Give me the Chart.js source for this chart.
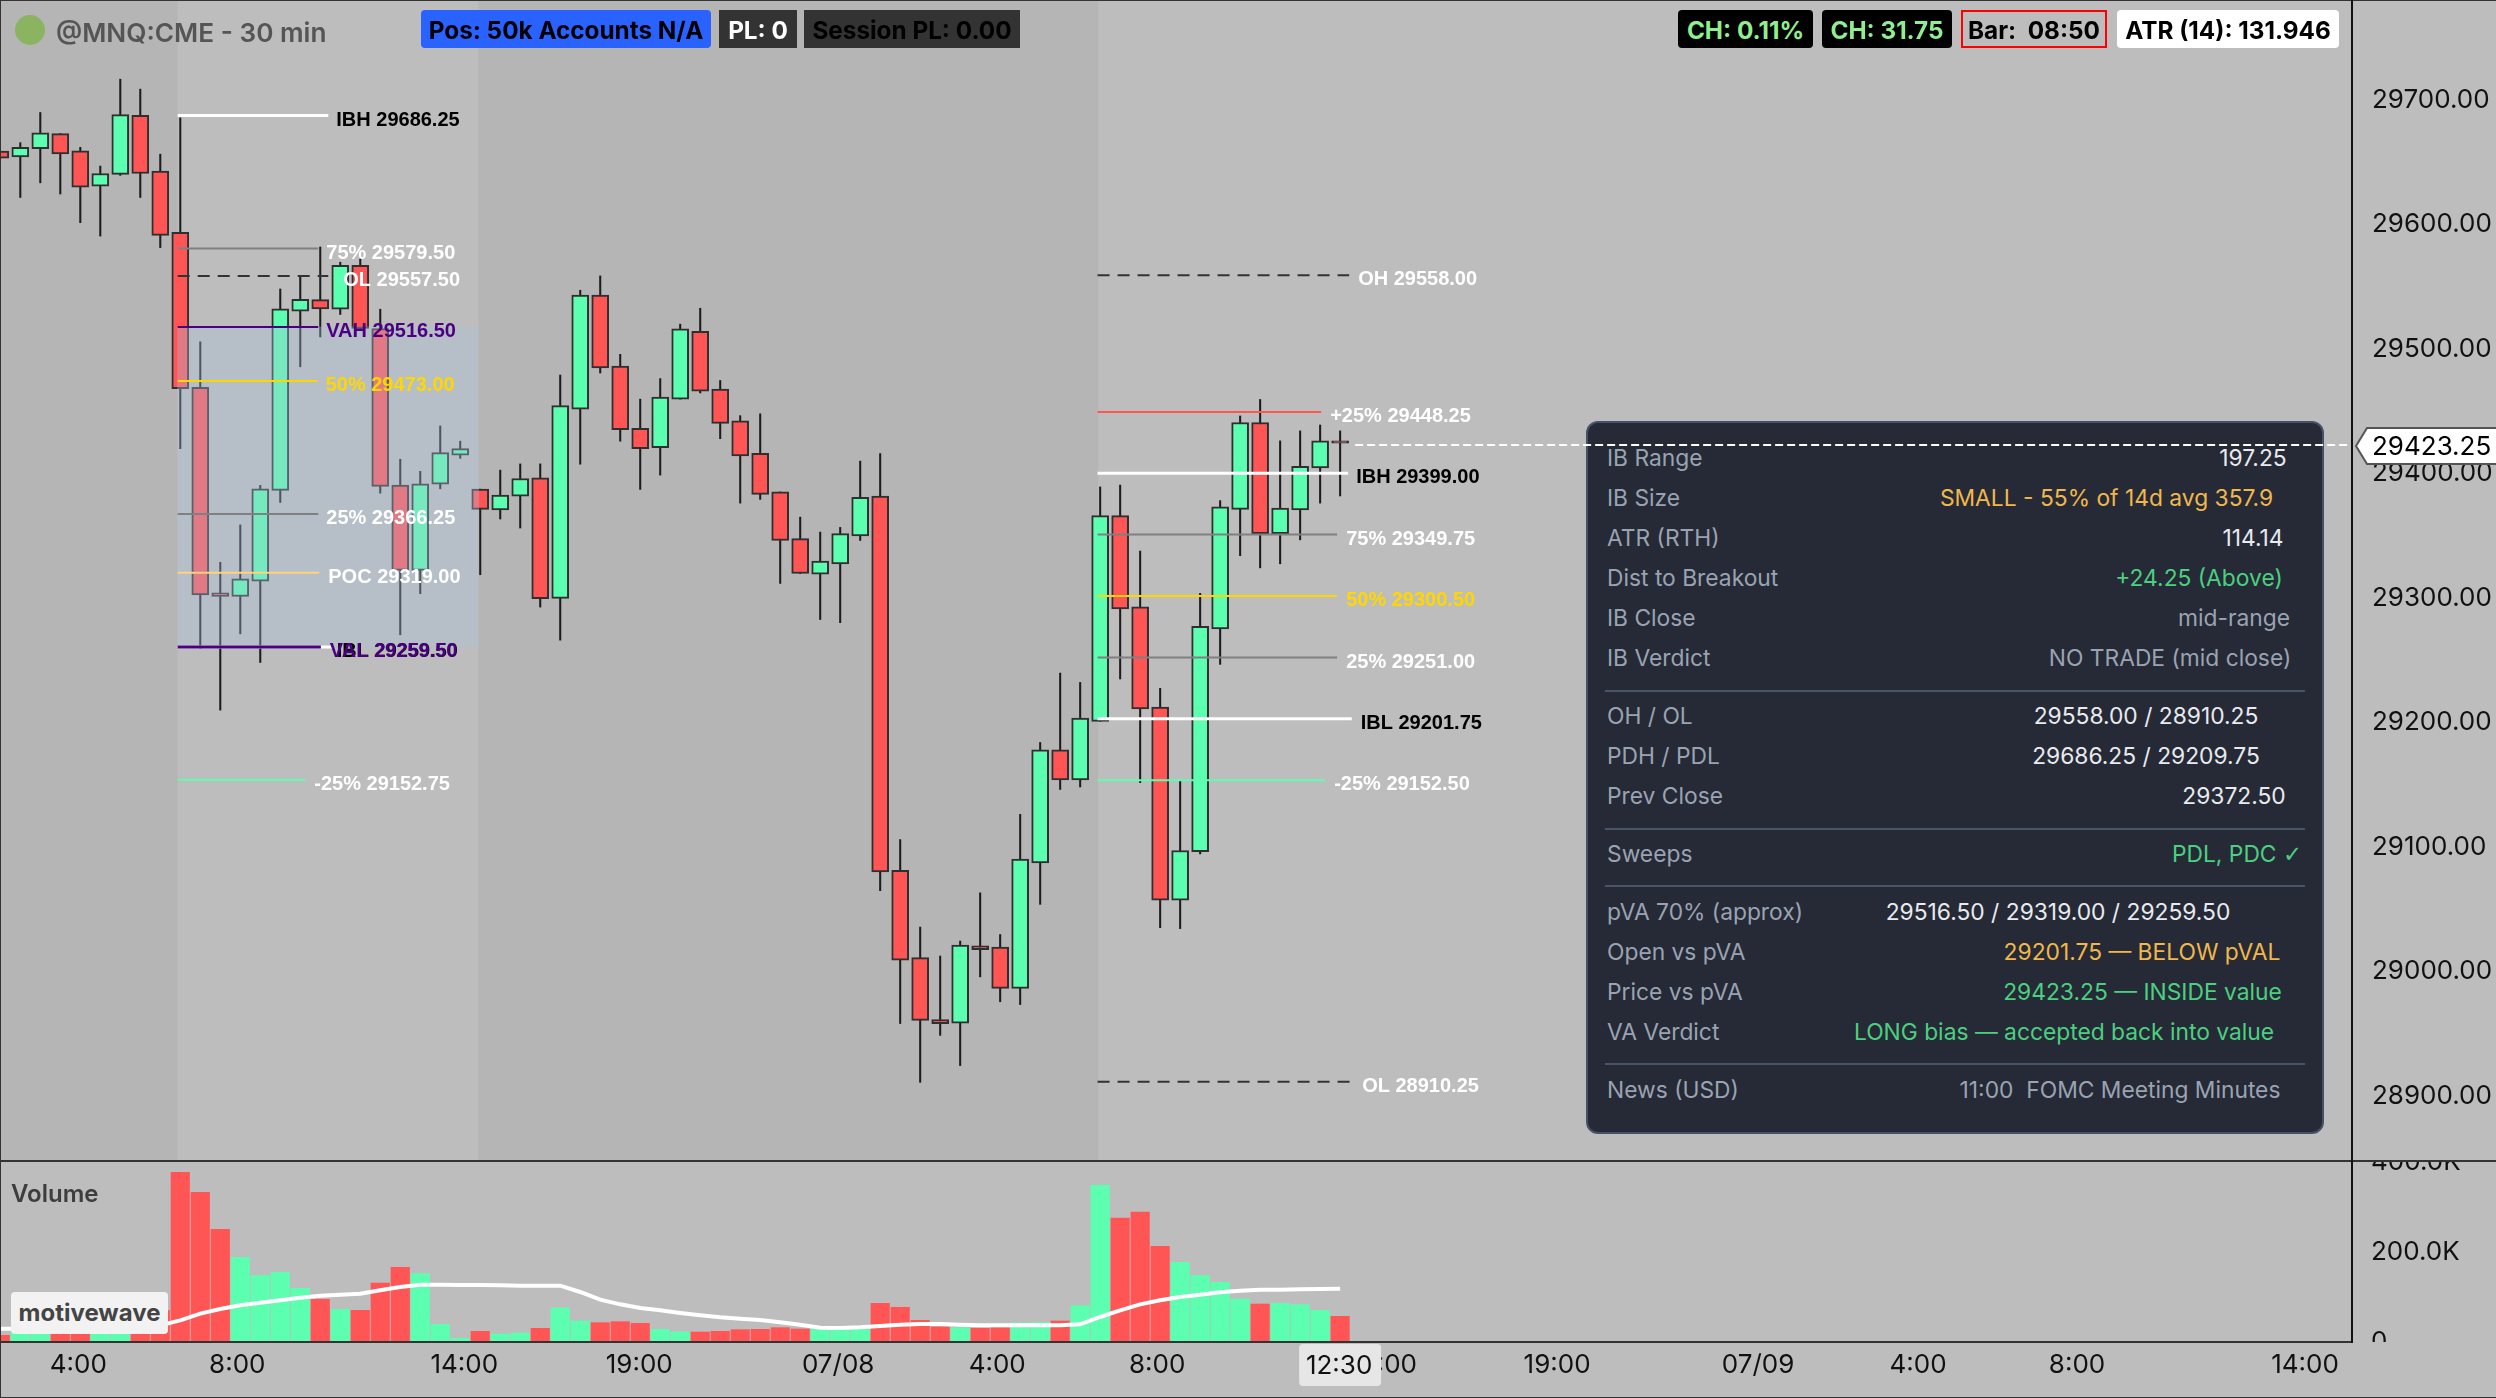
<!DOCTYPE html>
<html>
<head>
<meta charset="utf-8">
<title>@MNQ:CME - 30 min</title>
<script src="https://cdn.jsdelivr.net/npm/chart.js@4/dist/chart.umd.js"></script>
<style>
  html, body { margin: 0; padding: 0; width: 2496px; height: 1398px; overflow: hidden; background: #bdbdbd; font-family: Inter, sans-serif; }
  canvas { position: absolute; left: 0; z-index: 1; }
  #priceCanvas { top: 0; }
  #volumeCanvas { top: 1162px; }
  .rule { position: absolute; background: #333; z-index: 3; }
  .badge { position: absolute; top: 10px; height: 38px; line-height: 40px; text-align: center; font-size: 24.3px; font-weight: 700; border-radius: 4px; box-sizing: border-box; z-index: 3; white-space: nowrap; }
  .panel { position: absolute; left: 1586px; top: 421px; width: 738px; height: 713px; box-sizing: border-box; background: #252a36; border: 2px solid #465066; border-radius: 12px; z-index: 0; }
  .row { position: absolute; font-size: 22.8px; line-height: 30px; white-space: nowrap; z-index: 0; }
  .sep { position: absolute; left: 1605px; width: 700px; height: 2px; background: #4a5468; z-index: 0; }
  #title { position: absolute; left: 56px; top: 16px; font-size: 26.2px; line-height: 34px; font-weight: 600; color: #555; z-index: 3; white-space: nowrap; }
  #dot { position: absolute; left: 15px; top: 15px; width: 30px; height: 30px; border-radius: 50%; background: #8ab45f; z-index: 3; }
  #volTitle { position: absolute; left: 11px; top: 1179px; font-size: 24px; line-height: 30px; font-weight: 600; color: #3d3d3d; z-index: 3; }
  #brand { position: absolute; left: 11px; top: 1292px; width: 157px; height: 42px; line-height: 42px; text-align: center; background: #f2f2f2; border-radius: 4px; font-size: 24px; font-weight: 700; color: #444; z-index: 3; }
</style>
</head>
<body>
<div id="dot"></div>
<div id="title">@MNQ:CME - 30 min</div>
<div class="badge" style="left:421px;width:290px;background:#2962ff;color:#000">Pos: 50k Accounts N/A</div>
<div class="badge" style="left:719px;width:78px;background:#333;color:#fff;border-radius:0">PL: 0</div>
<div class="badge" style="left:804px;width:216px;background:#333;color:#000;border-radius:0">Session PL: 0.00</div>
<div class="badge" style="left:1678px;width:135px;background:#000;color:#90ee90">CH: 0.11%</div>
<div class="badge" style="left:1822px;width:130px;background:#000;color:#90ee90">CH: 31.75</div>
<div class="badge" style="left:1961px;width:146px;border:2px solid #f00;color:#000;line-height:36px;border-radius:0">Bar:&nbsp; 08:50</div>
<div class="badge" style="left:2117px;width:222px;background:#fff;color:#000">ATR (14): 131.946</div>
<div class="panel"></div>
<div id="panelRows"></div>
<div id="volTitle">Volume</div>
<div id="brand">motivewave</div>
<div class="rule" style="left:0;top:0;width:2496px;height:1px"></div>
<div class="rule" style="left:0;top:0;width:1px;height:1398px"></div>
<div class="rule" style="left:0;top:1160px;width:2496px;height:2px"></div>
<div class="rule" style="left:0;top:1341px;width:2352px;height:2px"></div>
<div class="rule" style="left:2351px;top:0;width:2px;height:1343px;background:#111"></div>
<div class="rule" style="left:0;top:1397px;width:2496px;height:1px"></div>
<canvas id="priceCanvas" width="2496" height="1161"></canvas>
<canvas id="volumeCanvas" width="2496" height="236"></canvas>
<script>
// 30 min bars, left to right
const opens = [29657.75, 29653, 29659.75, 29671.75, 29658, 29629.5, 29639, 29686.5, 29641.75, 29592.5,
  29468, 29303, 29300, 29312.25, 29385.25, 29529.25, 29538.5, 29530.75, 29566, 29515.25,
  29389.5, 29321, 29390.25, 29413.5, 29386.25, 29369.5, 29380.5, 29395.25, 29298.5, 29450.5,
  29542, 29485, 29435, 29419.5, 29458.5, 29513, 29466.5, 29441, 29415, 29384,
  29346.5, 29318, 29326.25, 29348.75, 29380.75, 29080, 29010, 28960.25, 28957.25, 29019.5,
  29018.5, 28985.25, 29086, 29176.75, 29152.75, 29199.75, 29365, 29291.75, 29211.25, 29056,
  29095, 29274, 29370, 29439.75, 29350.5, 29369.5, 29403.25, 29425];
const closes = [29652, 29660.75, 29672.5, 29655.5, 29628.75, 29639.75, 29687, 29639.75, 29590, 29467,
  29301.25, 29300, 29314.25, 29386.5, 29531, 29538.75, 29531, 29566, 29515.25, 29388.5,
  29321, 29390.5, 29415.5, 29418.75, 29370, 29381.5, 29394.75, 29298.25, 29453.25, 29542,
  29483.5, 29434, 29418.75, 29460.25, 29515, 29465, 29439, 29413, 29382, 29345,
  29318.5, 29328.5, 29350.5, 29379.75, 29078.75, 29008, 28959.5, 28957, 29020, 29016.25,
  28985.25, 29089, 29176.75, 29152.75, 29202.25, 29365, 29290, 29209.75, 29056, 29096,
  29276, 29372, 29439.75, 29350.5, 29371, 29404.5, 29425, 29423.25];
const highs = [29657.75, 29664.5, 29688.75, 29671.75, 29660.75, 29645.75, 29715.5, 29707.5, 29655.25, 29684.5,
  29504.5, 29327.5, 29357.5, 29389.25, 29547, 29557.75, 29580.75, 29568.5, 29571, 29530.75,
  29410.25, 29400.5, 29437, 29424.75, 29386.25, 29401.5, 29406.5, 29406.5, 29477.75, 29546,
  29557.5, 29494.5, 29458.5, 29475, 29518.75, 29531.5, 29473.5, 29445.25, 29446.75, 29384,
  29363.75, 29351.75, 29355.5, 29408.75, 29414.75, 29104.75, 29034.5, 29011.25, 29023.25, 29062,
  29028.5, 29125, 29182.75, 29238.5, 29231, 29388, 29389.5, 29336.5, 29226.25, 29151.75,
  29302.5, 29377, 29445, 29458.25, 29425, 29433, 29437.75, 29433];
const lows = [29652, 29620.5, 29632.25, 29623.25, 29600.25, 29589.5, 29638.25, 29620.5, 29580.25, 29418.75,
  29258.25, 29208.75, 29270, 29247, 29375.5, 29484.5, 29508.5, 29526.5, 29515.25, 29383,
  29269.25, 29302.25, 29386.5, 29411, 29317.5, 29362.25, 29355, 29291.5, 29265, 29406.25,
  29479.5, 29424.75, 29386, 29397.5, 29458.5, 29463.5, 29426.75, 29375, 29378, 29310.5,
  29318.5, 29281.5, 29279, 29345, 29063.75, 28957, 28909.75, 28947.5, 28923.25, 28994.5,
  28974.5, 28972.25, 29052.75, 29145, 29147, 29199.75, 29233.75, 29150.5, 29034, 29033.25,
  29093.25, 29245.5, 29332.75, 29323, 29326.25, 29345.5, 29375, 29380.75];
const volumes = [14800, 30000, 35000, 30000, 40000, 30000, 70000, 60000, 70000, 377000,
  332600, 250400, 188100, 147400, 154800, 119300, 94800, 72600, 70400, 131100,
  165900, 151800, 39300, 8100, 23700, 17800, 20000, 30400, 75600, 46700,
  43000, 45200, 41500, 28100, 22200, 22200, 23700, 27400, 28100, 31900,
  28900, 29600, 28900, 28900, 85900, 77000, 48100, 33300, 31900, 30400,
  31900, 42200, 43000, 46700, 80700, 348100, 275500, 288900, 212600, 177000,
  147400, 132600, 95600, 84400, 85900, 83000, 70400, 57000];
const volumeAvg = [29600, 29600, 30000, 30500, 31000, 32000, 33000, 35000, 37000, 48100,
  63000, 73300, 81500, 87400, 92600, 98500, 103000, 105200, 107400, 114800,
  122200, 127400, 127400, 126700, 126700, 125900, 125200, 125200, 125200, 111100,
  94100, 83700, 75600, 70400, 64400, 59300, 54800, 51900, 48900, 43700,
  38500, 31900, 31100, 32600, 35600, 38500, 40000, 40000, 38500, 37000,
  37000, 37000, 37000, 37000, 39300, 55600, 70400, 83700, 92600, 100000,
  105200, 110400, 114100, 116300, 116300, 117000, 117800, 118500];

const lastPrice = 29423.25;
const priceTicks = [29700, 29600, 29500, 29400, 29300, 29200, 29100, 29000, 28900];
const volumeTicks = [0, 200000, 400000];
const timeLabels = ["4:00", "8:00", "14:00", "19:00", "07/08", "4:00", "8:00", "14:00", "19:00", "07/09", "4:00", "8:00", "14:00"];
const timeTicks = [3.9, 11.85, 23.2, 31.95, 41.9, 49.85, 57.85, 69.15, 77.85, 87.9, 95.9, 103.85, 115.25];

// session levels, start/end are bar positions
const levelNames = ["IBH", "75%", "OL", "VAH", "50%", "25%", "POC", "IBL", "VAL", "-25%",
  "OH", "+25%", "IBH", "75%", "50%", "25%", "IBL", "-25%", "OL"];
const levelPrices = [29686.25, 29579.5, 29557.5, 29516.5, 29473, 29366.25, 29319, 29259.5, 29259.5, 29152.75,
  29558, 29448.25, 29399, 29349.75, 29300.5, 29251, 29201.75, 29152.5, 28910.25];
const levelStarts = [8.87, 8.87, 8.87, 8.87, 8.87, 8.87, 8.87, 8.87, 8.87, 8.87,
  54.87, 54.87, 54.87, 54.87, 54.87, 54.87, 54.87, 54.87, 54.87];
const levelEnds = [16.4, 15.9, 16.4, 15.9, 15.87, 15.9, 15.95, 16.6, 16.03, 15.25,
  67.45, 66.05, 67.4, 66.85, 66.85, 66.85, 67.58, 66.25, 67.5];
const vaZone = [29259.5, 29516.5];
const vaBarPos = 16.39;
const sessionBands = [[-1, 8.87], [23.9, 54.9]];

const GREEN = "#5cffb0";
const RED = "#ff5555";
const GREY = "#808080";
const GOLD = "#ffd700";
const INK = "#111";

// [line colour, width, dash, label colour, gap to label]
const levelStyles = [
  ["#fff", 3, [], "#000", 8],
  [GREY, 2, [], "#fff", 8],
  ["#333", 2, [12, 8], "#fff", 15],
  ["#4b0082", 2, [], "#4b0082", 8],
  [GOLD, 2, [], GOLD, 8],
  [GREY, 2, [], "#fff", 8],
  ["#ffd27f", 2, [], "#fff", 9],
  ["#fff", 3, [], "#000", 4.5],
  ["#4b0082", 3, [], "#4b0082", 9],
  [GREEN, 2, [], "#fff", 9],
  ["#333", 2, [12, 8], "#fff", 9],
  [RED, 2, [], "#fff", 9],
  ["#fff", 3, [], "#000", 8],
  [GREY, 2, [], "#fff", 9],
  [GOLD, 2, [], GOLD, 9],
  [GREY, 2, [], "#fff", 9],
  ["#fff", 3, [], "#000", 9],
  [GREEN, 2, [], "#fff", 9],
  ["#333", 2, [12, 8], "#fff", 12],
];

// info panel: label, value, colour, value centre x, row centre y
const WHITE = "#e8eaee";
const AMBER = "#f0b84c";
const MINT = "#4ccf80";
const MUTED = "#9aa3b2";
const panelRows = [
  ["IB Range", "197.25", WHITE, 2253, 458],
  ["IB Size", "SMALL - 55% of 14d avg 357.9", AMBER, 2106.5, 498],
  ["ATR (RTH)", "114.14", WHITE, 2253, 538],
  ["Dist to Breakout", "+24.25 (Above)", MINT, 2199, 578],
  ["IB Close", "mid-range", MUTED, 2234, 618],
  ["IB Verdict", "NO TRADE (mid close)", MUTED, 2170, 658],
  ["OH / OL", "29558.00 / 28910.25", WHITE, 2146, 716],
  ["PDH / PDL", "29686.25 / 29209.75", WHITE, 2146, 756],
  ["Prev Close", "29372.50", WHITE, 2234, 796],
  ["Sweeps", "PDL, PDC ✓", MINT, 2237, 854],
  ["pVA 70% (approx)", "29516.50 / 29319.00 / 29259.50", WHITE, 2058, 912],
  ["Open vs pVA", "29201.75 — BELOW pVAL", AMBER, 2142, 952],
  ["Price vs pVA", "29423.25 — INSIDE value", MINT, 2142.5, 992],
  ["VA Verdict", "LONG bias — accepted back into value", MINT, 2064, 1032],
  ["News (USD)", "11:00  FOMC Meeting Minutes", MUTED, 2120, 1090],
];
const panelSeps = [690, 828, 885, 1063];

const rowsEl = document.getElementById("panelRows");
panelRows.forEach(([label, value, color, cx, cy]) => {
  const shown = value.replace("✓", `<span style="font-family:'DejaVu Sans'">✓</span>`);
  rowsEl.insertAdjacentHTML("beforeend",
    `<div class="row" style="left:1607px;top:${cy - 15}px;color:${MUTED}">${label}</div>` +
    `<div class="row" style="left:${cx}px;top:${cy - 15}px;color:${color};transform:translateX(-50%);white-space:pre">${shown}</div>`);
});
panelSeps.forEach((y) => rowsEl.insertAdjacentHTML("beforeend", `<div class="sep" style="top:${y}px"></div>`));

const barColor = (ctx) => (closes[ctx.dataIndex] >= opens[ctx.dataIndex] ? GREEN : RED);
const axisFont = { family: "Inter", size: 26 };

// chart.js reserves room for the outer tick labels, these panes run edge to edge
const fitValueAxis = (scale) => {
  scale.width = 144;
  scale.paddingTop = 0;
  scale.paddingBottom = 0;
};

const sessionBandsPlugin = {
  id: "sessionBands",
  beforeDatasetsDraw(chart) {
    const { ctx, chartArea, scales } = chart;
    ctx.save();
    ctx.fillStyle = "#b5b5b5";
    sessionBands.forEach(([from, to]) => {
      const left = Math.max(scales.x.getPixelForValue(from), chartArea.left);
      ctx.fillRect(left, chartArea.top, scales.x.getPixelForValue(to) - left, chartArea.bottom - chartArea.top);
    });
    ctx.restore();
  },
};

const levelLabelsPlugin = {
  id: "levelLabels",
  afterDraw(chart) {
    const { ctx, scales } = chart;
    ctx.save();
    ctx.font = "bold 20px 'Liberation Sans'";
    ctx.textBaseline = "middle";
    levelNames.forEach((name, i) => {
      const [, , , labelColor, gap] = levelStyles[i];
      ctx.fillStyle = labelColor;
      ctx.fillText(`${name} ${levelPrices[i].toFixed(2)}`, scales.x.getPixelForValue(levelEnds[i]) + gap, scales.y.getPixelForValue(levelPrices[i]) + 4.5);
    });

    // last price tag on the axis
    const y = scales.y.getPixelForValue(lastPrice) + 3;
    ctx.beginPath();
    ctx.moveTo(2356, y);
    ctx.lineTo(2367, y - 18);
    ctx.lineTo(2497, y - 18);
    ctx.lineTo(2497, y + 18);
    ctx.lineTo(2367, y + 18);
    ctx.closePath();
    ctx.fillStyle = "#fff";
    ctx.fill();
    ctx.lineWidth = 2;
    ctx.strokeStyle = "#555";
    ctx.stroke();
    ctx.fillStyle = "#000";
    ctx.font = "26px Inter";
    ctx.fillText(lastPrice.toFixed(2), 2372, y + 1);
    ctx.restore();
  },
};

new Chart(document.getElementById("priceCanvas"), {
  data: {
    datasets: [
      {
        type: "bar",
        data: highs.map((h, i) => ({ x: i, y: [lows[i], h] })),
        backgroundColor: "#1c1c1c",
        barThickness: 1.4,
        order: 5,
      },
      {
        type: "bar",
        data: opens.map((o, i) => ({ x: i, y: [o, closes[i]] })),
        backgroundColor: barColor,
        borderColor: "#2f2f2f",
        borderWidth: 2,
        borderSkipped: false,
        barThickness: 17,
        order: 4,
      },
      {
        type: "bar",
        data: [{ x: vaBarPos, y: vaZone }],
        backgroundColor: "rgba(170, 192, 222, 0.35)",
        barThickness: 301,
        order: 3,
      },
      ...levelNames.map((name, i) => ({
        type: "line",
        label: name,
        data: [{ x: levelStarts[i], y: levelPrices[i] }, { x: levelEnds[i], y: levelPrices[i] }],
        borderColor: levelStyles[i][0],
        borderWidth: levelStyles[i][1],
        borderDash: levelStyles[i][2],
        pointRadius: 0,
        order: i === 8 ? 1 : 2,
      })),
      {
        // the platform draws this line a hair below the last price
        type: "line",
        data: [{ x: 67.75, y: lastPrice - 1.5 }, { x: 117.6, y: lastPrice - 1.5 }],
        borderColor: "#fff",
        borderWidth: 2,
        borderDash: [8, 4],
        pointRadius: 0,
        order: 0,
      },
    ],
  },
  options: {
    responsive: false,
    animation: false,
    devicePixelRatio: 1,
    layout: { padding: 0 },
    plugins: { legend: { display: false }, tooltip: { enabled: false } },
    scales: {
      x: { type: "linear", display: false, stacked: true, min: -0.015, max: 117.6, offset: false, grid: { display: false } },
      y: {
        position: "right",
        stacked: false,
        min: 28846.6,
        max: 29779.1,
        grid: { display: false, drawTicks: false },
        border: { display: false },
        afterFit: fitValueAxis,
        afterBuildTicks: (scale) => { scale.ticks = priceTicks.map((value) => ({ value })); },
        ticks: {
          padding: 20,
          labelOffset: 1.5,
          color: INK,
          font: axisFont,
          callback: (v) => v.toFixed(2),
        },
      },
    },
  },
  plugins: [sessionBandsPlugin, levelLabelsPlugin],
});

const volumeOverlayPlugin = {
  id: "volumeOverlay",
  afterDraw(chart) {
    const { ctx, chartArea, scales, width, height } = chart;
    ctx.save();
    // the zero label is cut at the pane edge
    ctx.fillStyle = "#bdbdbd";
    ctx.fillRect(chartArea.right + 1, chartArea.bottom, width - chartArea.right, height - chartArea.bottom);
    // crosshair time tag
    const x = scales.x.getPixelForValue(66.95);
    ctx.fillStyle = "#e6e6e6";
    ctx.beginPath();
    ctx.roundRect(x - 40, chartArea.bottom + 2, 82, 42, 4);
    ctx.fill();
    ctx.fillStyle = INK;
    ctx.font = "26px Inter";
    ctx.textAlign = "center";
    ctx.textBaseline = "middle";
    ctx.fillText("12:30", x, chartArea.bottom + 24);
    ctx.restore();
  },
};

new Chart(document.getElementById("volumeCanvas"), {
  data: {
    datasets: [
      {
        type: "line",
        data: volumeAvg.map((v, i) => ({ x: i, y: v })),
        borderColor: "#fff",
        borderWidth: 4,
        pointRadius: 0,
        order: 1,
      },
      {
        type: "bar",
        data: volumes.map((v, i) => ({ x: i, y: v })),
        backgroundColor: barColor,
        barThickness: 18.5,
        order: 2,
      },
    ],
  },
  options: {
    responsive: false,
    animation: false,
    devicePixelRatio: 1,
    layout: { padding: 0 },
    plugins: { legend: { display: false }, tooltip: { enabled: false } },
    scales: {
      x: {
        type: "linear",
        min: -0.015,
        max: 117.6,
        offset: false,
        grid: { display: false, drawTicks: false },
        border: { display: false },
        afterFit: (scale) => {
          scale.height = 56;
          scale.paddingLeft = 0;
          scale.paddingRight = 0;
        },
        afterBuildTicks: (scale) => { scale.ticks = timeTicks.map((value) => ({ value })); },
        ticks: {
          autoSkip: false,
          maxRotation: 0,
          padding: 8,
          color: INK,
          font: axisFont,
          callback: (v) => timeLabels[timeTicks.indexOf(v)],
        },
      },
      y: {
        position: "right",
        min: 0,
        max: 400000,
        grid: { display: false, drawTicks: false },
        border: { display: false },
        afterFit: fitValueAxis,
        afterBuildTicks: (scale) => { scale.ticks = volumeTicks.map((value) => ({ value })); },
        ticks: {
          padding: 19,
          color: INK,
          font: axisFont,
          callback: (v) => (v === 0 ? "0" : (v / 1000).toFixed(1) + "K"),
        },
      },
    },
  },
  plugins: [volumeOverlayPlugin],
});
</script>
</body>
</html>
